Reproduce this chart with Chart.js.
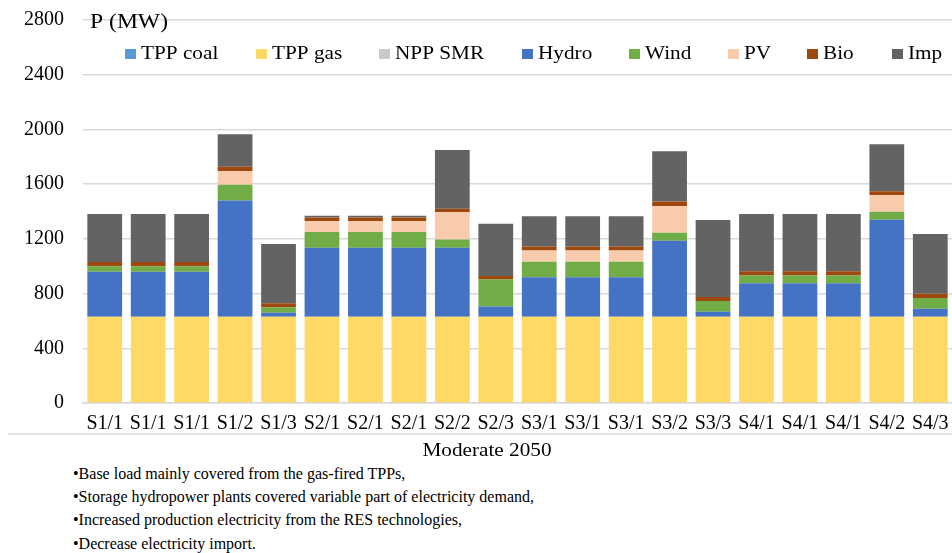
<!DOCTYPE html>
<html>
<head>
<meta charset="utf-8">
<script src="https://cdn.jsdelivr.net/npm/chart.js@4/dist/chart.umd.min.js"></script>
<style>
  html, body { margin: 0; padding: 0; background: #fff; overflow: hidden; }
  #wrap { position: relative; width: 952px; height: 553px; }
  #chartBox { position: absolute; left: 0; top: 0; width: 952px; height: 465px; }
  .note {
    position: absolute; left: 73px;
    font-family: "Liberation Serif", "Times New Roman", serif;
    font-size: 16px; color: #000; white-space: nowrap;
  }
</style>
</head>
<body>
<div id="wrap">
  <div id="chartBox"><canvas id="chart"></canvas></div>
  <div class="note" style="top:465px">&#8226;Base load mainly covered from the gas-fired TPPs,</div>
  <div class="note" style="top:488px">&#8226;Storage hydropower plants covered variable part of electricity demand,</div>
  <div class="note" style="top:511px">&#8226;Increased production electricity from the RES technologies,</div>
  <div class="note" style="top:535px">&#8226;Decrease electricity import.</div>
</div>
<script>
// Data (MW)
const categories = ['S1/1', 'S1/1', 'S1/1', 'S1/2', 'S1/3', 'S2/1', 'S2/1', 'S2/1', 'S2/2', 'S2/3',
                    'S3/1', 'S3/1', 'S3/1', 'S3/2', 'S3/3', 'S4/1', 'S4/1', 'S4/1', 'S4/2', 'S4/3'];
const tppCoal = [0, 0, 0, 0, 0, 0, 0, 0, 0, 0, 0, 0, 0, 0, 0, 0, 0, 0, 0, 0];
const tppGas  = [630, 630, 630, 630, 630, 630, 630, 630, 630, 630, 630, 630, 630, 630, 630, 630, 630, 630, 630, 630];
const nppSmr  = [0, 0, 0, 0, 0, 0, 0, 0, 0, 0, 0, 0, 0, 0, 0, 0, 0, 0, 0, 0];
const hydro   = [330, 330, 330, 850, 30, 505, 505, 505, 505, 75, 290, 290, 290, 557, 37, 245, 245, 245, 710, 59];
const wind    = [40, 40, 40, 115, 40, 115, 115, 115, 60, 197, 112, 112, 112, 58, 79, 58, 58, 58, 58, 79];
const pv      = [0, 0, 0, 100, 0, 80, 80, 80, 200, 0, 82, 82, 82, 195, 0, 0, 0, 0, 122, 0];
const bio     = [30, 30, 30, 32, 30, 27, 27, 27, 26, 27, 30, 30, 30, 34, 29, 30, 30, 30, 28, 31];
const imp     = [352, 352, 352, 237, 432, 12, 12, 12, 429, 381, 221, 221, 221, 366, 563, 419, 419, 419, 343, 436];
const yTicks  = [0, 400, 800, 1200, 1600, 2000, 2400, 2800];

const seriesNames = ['TPP coal', 'TPP gas', 'NPP SMR', 'Hydro', 'Wind', 'PV', 'Bio', 'Imp'];
const seriesData = [tppCoal, tppGas, nppSmr, hydro, wind, pv, bio, imp];
const seriesColors = ['#5B9BD5', '#FFD966', '#C9C9C9', '#4472C4', '#70AD47', '#F8CBAD', '#9E480E', '#636363'];

const serif = '"Liberation Serif", "Times New Roman", serif';
Chart.defaults.font.family = serif;
Chart.defaults.color = '#000';

// legend item x positions (box left edge) as in the reference
const legendX = [125, 256, 379, 522, 629, 728, 807, 892];

// draws text stretched sideways a little, like the reference image
function wideText(ctx, text, x, y, align) {
  ctx.save();
  ctx.translate(x, y);
  ctx.scale(1.18, 1);
  ctx.textAlign = align;
  ctx.fillText(text, 0, 0);
  ctx.restore();
}

const extrasPlugin = {
  id: 'extras',
  afterDraw(chart) {
    const ctx = chart.ctx;
    const area = chart.chartArea;
    ctx.save();
    ctx.fillStyle = '#000';
    ctx.textBaseline = 'middle';
    // axis unit label
    ctx.font = '20px ' + serif;
    wideText(ctx, 'P (MW)', 90, area.top + 3, 'left');
    // legend
    ctx.font = '18px ' + serif;
    chart.data.datasets.forEach((ds, i) => {
      ctx.fillStyle = ds.backgroundColor;
      ctx.fillRect(legendX[i], 49, 11, 10);
      ctx.fillStyle = '#000';
      wideText(ctx, ds.label, legendX[i] + 16, 54, 'left');
    });
    // separator line under category labels
    ctx.strokeStyle = '#d9d9d9';
    ctx.lineWidth = 1.5;
    ctx.beginPath();
    ctx.moveTo(8, 434);
    ctx.lineTo(chart.width, 434);
    ctx.stroke();
    // group title
    ctx.font = '18px ' + serif;
    wideText(ctx, 'Moderate 2050', 487, 451, 'center');
    ctx.restore();
  }
};

new Chart(document.getElementById('chart'), {
  type: 'bar',
  data: {
    labels: categories,
    datasets: seriesNames.map((name, i) => ({
      label: name,
      data: seriesData[i],
      backgroundColor: seriesColors[i],
      borderWidth: 0,
      barPercentage: 0.8,
      categoryPercentage: 1.0
    }))
  },
  options: {
    responsive: true,
    maintainAspectRatio: false,
    animation: false,
    layout: { padding: { top: 20, right: 0, bottom: 0, left: 0 } },
    plugins: {
      legend: { display: false },
      tooltip: { enabled: false }
    },
    scales: {
      x: {
        stacked: true,
        grid: { display: false, drawTicks: false },
        border: { display: true, color: '#d9d9d9', width: 1.5 },
        ticks: { autoSkip: false, maxRotation: 0, minRotation: 0, padding: 9, font: { size: 20 } },
        afterFit(scale) { scale.height = 62; scale.paddingLeft = 0; scale.paddingRight = 0; }
      },
      y: {
        stacked: true,
        min: 0,
        max: 2800,
        afterBuildTicks(scale) { scale.ticks = yTicks.map(v => ({ value: v })); },
        grid: { color: '#d9d9d9', lineWidth: 1.5, drawTicks: false },
        border: { display: false },
        ticks: { padding: 19, font: { size: 20 }, callback: v => String(v) },
        afterFit(scale) { scale.width = 83; scale.paddingTop = 0; scale.paddingBottom = 0; }
      }
    }
  },
  plugins: [extrasPlugin]
});
</script>
</body>
</html>
